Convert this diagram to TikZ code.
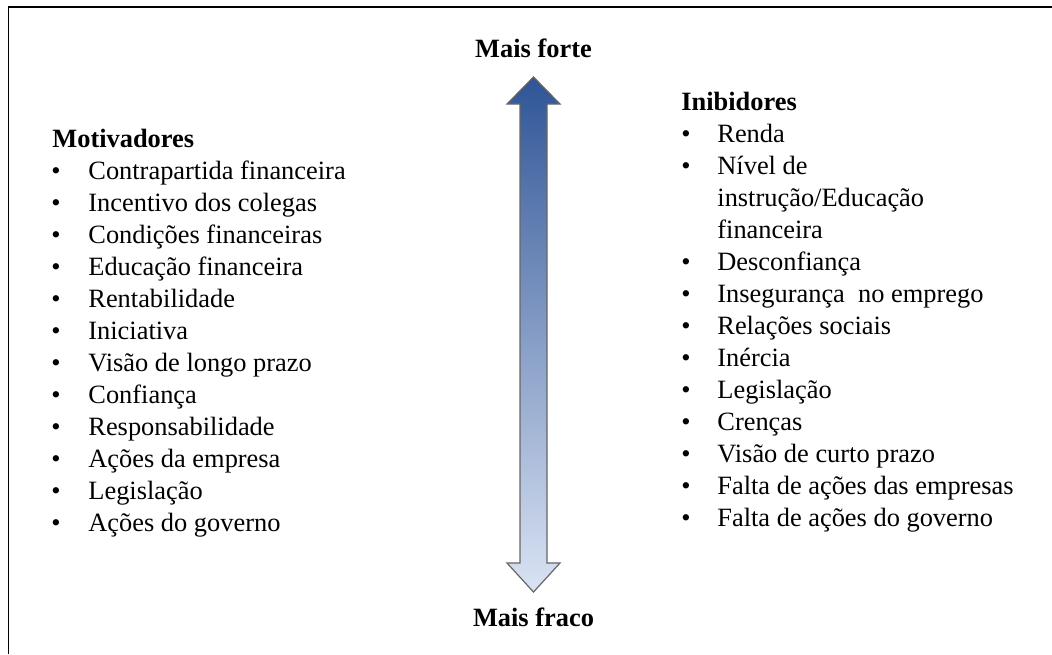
\documentclass[tikz,border=0pt]{standalone}
\usepackage{fontspec}
\setmainfont{Liberation Serif}
\usetikzlibrary{positioning}
\definecolor{strongblue}{HTML}{2F5597}
\definecolor{weakblue}{HTML}{DAE3F3}

\tikzset{
  txt/.style={anchor=base west, inner sep=0pt, font=\fontsize{13.2}{16}\selectfont},
  head/.style={txt, font=\fontsize{13.2}{16}\selectfont\bfseries},
  dot/.style={anchor=base, inner sep=0pt, font=\fontsize{13.2}{16}\selectfont},
}

\begin{document}
\begin{tikzpicture}[x=0.5pt, y=-0.5pt]
  \useasboundingbox (0,0) rectangle (1052,654);
  \draw[line width=0.75pt] (8.5,654) |- (1052,7);

  % scale arrow
  \coordinate (tip) at (533.5,77);
  \coordinate (foot) at (533.5,592);
  \draw[draw=black!60, line width=0.6pt, top color=strongblue, bottom color=weakblue]
    (tip) -- (560,104) -- (547,104) -- (547,563) -- (560,563) -- (foot)
    -- (507,563) -- (520,563) -- (520,104) -- (507,104) -- cycle;
  \node[head, anchor=south] (forte) [above=9.5pt of tip] {Mais forte};
  \node[head, anchor=north] (fraco) [below=7.5pt of foot] {Mais fraco};

  % motivadores
  \node[head] (mot) at (52,147) {Motivadores};
  \foreach \txt [count=\i] in {Contrapartida financeira, Incentivo dos colegas,
      Condições financeiras, Educação financeira, Rentabilidade, Iniciativa,
      Visão de longo prazo, Confiança, Responsabilidade, Ações da empresa,
      Legislação, Ações do governo} {
    \node[dot] (mb\i) at (56,147+32*\i) {\textbullet};
    \node[txt] (m\i) at (88,147+32*\i) {\txt};
  }

  % inibidores
  \node[head] (inib) at (681,110) {Inibidores};
  \foreach \txt [count=\i] in {Renda, Nível de, instrução/Educação, financeira,
      Desconfiança, Insegurança~ no emprego, Relações sociais, Inércia,
      Legislação, Crenças, Visão de curto prazo, Falta de ações das empresas,
      Falta de ações do governo} {
    \node[txt] (i\i) at (717,110+32*\i) {\txt};
  }
  \foreach \i in {1,2,5,6,...,13} {
    \node[dot] (ib\i) at (686,110+32*\i) {\textbullet};
  }
\end{tikzpicture}
\end{document}
